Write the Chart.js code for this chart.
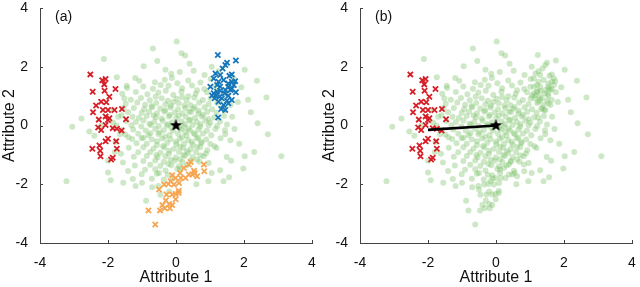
<!DOCTYPE html>
<html>
<head>
<meta charset="utf-8">
<script src="https://cdn.jsdelivr.net/npm/chart.js@4"></script>
<style>
  html, body { margin: 0; padding: 0; background: #fff; }
  .wrap { display: flex; width: 640px; height: 287px; }
  .panel { position: relative; width: 320px; height: 287px; }
</style>
</head>
<body>
<div class="wrap">
  <div class="panel"><canvas id="chartA"></canvas></div>
  <div class="panel"><canvas id="chartB"></canvas></div>
</div>
<script>
// values, [attribute 1, attribute 2]
const greenPts = [
  [-3.22,-1.9],[-3.05,-0.04],[-2.78,0.24],[-2.12,2.26],[-1.74,1.64],[-1.92,-1.86],[-1.56,-1.26],[-1.41,-1.55],
  [-1.27,-1.82],[-1.19,-2.06],[-0.88,-2.56],[-0.52,-2.06],[-0.95,2.02],[-0.68,2.62],[0.02,2.86],[0.16,2.46],
  [0.27,2.38],[-0.31,1.9],[-0.14,1.76],[0.11,1.82],[0.52,1.86],[0.84,1.72],[2.02,1.9],[2.38,1.52],[2.66,0.95],
  [2.12,0.88],[2.4,0.08],[2.7,-0.3],[3.1,-1.05],[2.02,-1.05],[1.98,-1.46],[1.56,-1.76],[1.3,-1.52],[1.86,-0.62],
  [1.72,-0.12],[1.82,0.8],[1.92,1.3],[1.62,-1.2],[1.05,-1.62],[-1.62,-0.96],[-1.78,-0.56],[-1.52,0.92],
  [-1.9,0.52],[-0.46,-2.36],[-2.4,-0.35],[-1.45,1.35],[-1.2,1.62],[-0.55,2.2],[0.4,2.1],[1.05,2.0],[-1.0,-1.95],
  [-0.7,-2.1],[-0.2,-2.25],[0.6,-2.0],[0.95,-1.9],[1.4,-1.9],[2.3,-0.9],[2.2,0.45],[1.6,-0.5],[-2.0,-1.2],
  [-1.75,0.0],[-1.6,0.35],[-2.2,0.0],[-1.65,-0.3],[-1.55,0.6],[-1.7,0.3],[-1.85,0.1],[-1.6,-0.15],[-1.4,-0.4],
  [-1.8,-0.9],[-2.55,-0.2],[-2.0,-1.6],[1.42,0.52],[1.6,0.7],[1.55,1.25],[1.7,1.6],[1.25,1.85],[1.45,-0.3],[1.65,0.3],
  [-1.08,1.52],[-0.62,1.47],[-0.33,1.56],[0.04,1.44],[0.36,1.53],[0.72,1.46],[1.02,1.58],[-0.12,1.62],
  [-1.44,1.28],[-0.96,1.33],[-0.68,1.25],[-0.22,1.35],[0.18,1.27],[0.47,1.36],[0.83,1.24],[1.12,1.32],[-0.45,1.38],[0.62,1.2],
  [-1.58,1.08],[-1.18,1.14],[-0.84,1.06],[-0.52,1.12],[-0.08,1.04],[0.16,1.15],[0.58,1.08],[0.91,1.13],[1.52,1.06],[-0.3,1.18],[0.36,1.0],[1.22,1.16],
  [-1.33,0.88],[-1.03,0.94],[-0.77,0.86],[-0.42,0.93],[-0.24,0.84],[0.02,0.91],[0.31,0.86],[0.54,0.95],[0.79,0.87],[1.02,0.92],[-0.6,0.98],[0.18,0.97],[1.3,0.86],[-0.08,0.8],
  [-1.48,0.74],[-1.14,0.78],[-0.91,0.71],[-0.58,0.77],[-0.31,0.72],[0.08,0.76],[0.42,0.7],[0.68,0.78],[0.96,0.73],[1.21,0.77],[-0.72,0.66],[0.25,0.68],[-0.15,0.67],[0.55,0.63],
  [-1.24,0.6],[-0.94,0.56],[-0.7,0.62],[-0.46,0.58],[-0.16,0.61],[0.06,0.55],[0.27,0.6],[0.51,0.57],[0.84,0.62],[1.06,0.55],[1.36,0.6],[-0.32,0.52],[0.67,0.5],[0.38,0.48],
  [-1.41,0.46],[-1.01,0.43],[-0.79,0.48],[-0.56,0.42],[-0.34,0.47],[-0.04,0.44],[0.19,0.41],[0.44,0.46],[0.66,0.42],[0.92,0.47],[1.19,0.43],[-0.18,0.36],[0.08,0.34],[0.8,0.36],[-0.66,0.34],
  [-1.28,0.3],[-1.09,0.26],[-0.86,0.32],[-0.59,0.28],[-0.21,0.31],[0.01,0.25],[0.29,0.3],[0.56,0.26],[0.76,0.31],[1.12,0.27],[1.41,0.32],[-0.42,0.24],[0.42,0.2],[0.95,0.22],
  [-1.46,0.15],[-1.18,0.12],[-0.96,0.17],[-0.64,0.13],[-0.39,0.16],[-0.11,0.11],[0.16,0.14],[0.39,0.17],[0.61,0.12],[0.86,0.16],[1.01,0.1],[1.29,0.14],[-0.78,0.06],[0.26,0.05],[0.72,0.04],[-0.24,0.04],
  [-1.31,0.01],[-1.02,-0.03],[-0.74,0.02],[-0.51,-0.02],[-0.27,0.0],[0.24,-0.03],[0.49,0.02],[0.71,-0.04],[0.96,0.01],[1.21,-0.02],[1.5,0.03],[0.1,-0.08],[-0.14,-0.07],[0.37,-0.1],
  [-1.26,-0.14],[-0.89,-0.17],[-0.61,-0.12],[-0.36,-0.16],[-0.09,-0.18],[0.14,-0.13],[0.41,-0.17],[0.66,-0.14],[0.91,-0.18],[1.16,-0.12],[1.44,-0.16],[-0.48,-0.24],[0.52,-0.26],[0.27,-0.22],[-0.75,-0.26],
  [-1.49,-0.31],[-1.11,-0.28],[-0.81,-0.33],[-0.52,-0.29],[-0.19,-0.32],[0.06,-0.28],[0.31,-0.34],[0.56,-0.3],[0.79,-0.27],[1.04,-0.33],[-0.32,-0.38],[0.18,-0.4],[0.66,-0.42],[-0.96,-0.42],
  [-1.29,-0.46],[-1.01,-0.43],[-0.71,-0.48],[-0.41,-0.44],[-0.16,-0.47],[0.11,-0.45],[0.36,-0.49],[0.61,-0.44],[0.89,-0.48],[1.31,-0.43],[-0.56,-0.54],[0.46,-0.56],[0.0,-0.55],[0.75,-0.56],
  [-1.16,-0.6],[-0.86,-0.62],[-0.56,-0.66],[-0.26,-0.59],[0.01,-0.63],[0.24,-0.61],[0.49,-0.65],[0.74,-0.6],[1.01,-0.63],[-0.38,-0.7],[0.12,-0.72],[0.62,-0.73],[1.13,-0.71],
  [-1.39,-0.76],[-0.96,-0.74],[-0.66,-0.78],[-0.34,-0.75],[-0.06,-0.79],[0.21,-0.76],[0.44,-0.8],[0.71,-0.74],[1.19,-0.77],[-0.2,-0.86],[0.32,-0.87],[0.92,-0.84],
  [-1.11,-0.91],[-0.76,-0.9],[-0.46,-0.93],[-0.21,-0.96],[0.09,-0.9],[0.36,-0.94],[0.59,-0.91],[0.88,-0.95],[-0.58,-1.0],[0.22,-1.0],[0.72,-1.02],
  [-1.24,-1.06],[-0.86,-1.04],[-0.54,-1.08],[-0.31,-1.05],[-0.01,-1.09],[0.26,-1.04],[0.49,-1.08],[0.81,-1.05],[1.49,-1.07],[0.12,-1.15],[-0.16,-1.17],[0.62,-1.16],
  [-0.96,-1.21],[-0.61,-1.19],[-0.36,-1.23],[-0.04,-1.2],[0.19,-1.24],[0.44,-1.2],[0.69,-1.23],[0.96,-1.28],[-0.22,-1.31],
  [-1.21,-1.36],[-0.76,-1.34],[-0.46,-1.38],[-0.14,-1.35],[0.09,-1.39],[0.31,-1.36],[0.12,-1.5],
  [-0.91,-1.51],[-0.61,-1.49],[-0.31,-1.53],[0.04,-1.48],[-0.5,-1.62],
  [-1.01,-1.66],[-0.56,-1.64],[-0.24,-1.68],[-0.1,-1.8],
  [-0.71,-1.81],[-0.36,-1.84],[-1.55,-1.95]
];

const redPts = [
  [-2.52,1.74],[-2.45,1.15],[-2.17,1.54],[-2.07,1.58],[-2.11,1.40],[-2.10,1.18],[-1.78,1.24],[-1.96,0.98],
  [-2.20,0.81],[-2.35,0.68],[-2.44,0.45],[-2.15,0.53],[-2.00,0.53],[-1.81,0.53],[-1.59,0.56],[-2.27,0.20],
  [-2.07,0.31],[-2.00,0.19],[-1.47,0.21],[-2.29,-0.07],[-2.20,-0.15],[-2.07,0.02],[-1.86,-0.09],[-1.74,-0.11],
  [-1.60,-0.17],[-1.76,-0.54],[-2.00,-0.45],[-2.07,-0.54],[-2.25,-0.68],[-2.46,-0.79],[-2.23,-0.86],[-2.22,-1.05],
  [-1.91,-1.16],[-1.86,-1.10],[-1.74,-0.79],[-1.96,0.25],[-2.05,0.79]
];

const bluePts = [
  [1.23,2.40],[1.76,2.21],[1.45,2.06],[1.50,2.14],[1.16,1.77],[1.30,1.72],[1.57,1.69],[1.64,1.74],[1.11,1.60],
  [1.40,1.55],[1.74,1.51],[1.25,1.49],[1.54,1.43],[1.01,1.32],[1.30,1.32],[1.64,1.24],[1.45,1.21],[1.21,1.15],
  [1.76,1.13],[1.16,1.02],[1.28,0.98],[1.14,0.93],[1.35,0.93],[1.54,1.01],[1.64,0.87],[1.25,0.81],[1.40,0.70],
  [1.33,0.56],[1.45,0.53],[1.24,0.27],[1.11,1.10],[1.54,1.32],[1.64,1.49],[1.21,1.38],[1.43,1.10],[1.50,0.84],
  [1.54,0.76],[1.30,1.18],[1.06,1.02],[1.37,1.94],[1.60,1.21],[1.70,1.38]
];

const orangePts = [
  [-0.61,-3.37],[-0.81,-2.89],[-0.47,-2.89],[-0.40,-2.71],[-0.30,-2.55],[-0.33,-2.82],[-0.18,-2.82],[-0.11,-2.71],
  [-0.11,-2.35],[-0.01,-2.51],[-0.01,-2.33],[0.08,-2.22],[-0.50,-2.18],[-0.22,-1.99],[-0.16,-1.90],[-0.06,-2.01],
  [-0.01,-1.79],[-0.11,-1.69],[0.12,-1.62],[0.14,-1.79],[0.28,-1.79],[0.38,-1.67],[0.48,-1.67],[0.62,-1.73],
  [0.55,-1.62],[0.38,-1.33],[0.43,-1.24],[0.82,-1.33],[0.83,-1.56],[0.53,-1.54],[0.23,-1.45],[0.09,-1.96],
  [-0.28,-2.35],[-0.20,-2.67],[0.08,-2.30],[-0.35,-2.01]
];

const centrePt = [[0, 0]];
const linkLine = [[-2.0, -0.15], [0, 0]];
const tickVals = [-4, -2, 0, 2, 4];

const FONT = '"Liberation Sans", Arial, Helvetica, sans-serif';
const toXY = arr => arr.map(p => ({ x: p[0], y: p[1] }));

// filled five-point star used as the point style of the centre
function makeStar(size) {
  const c = document.createElement('canvas');
  c.width = size; c.height = size;
  const g = c.getContext('2d');
  const cx = size / 2, cy = size / 2, ro = size / 2, ri = ro * 0.42;
  g.beginPath();
  for (let i = 0; i < 10; i++) {
    const r = i % 2 ? ri : ro;
    const a = -Math.PI / 2 + i * Math.PI / 5;
    g.lineTo(cx + r * Math.cos(a), cy + r * Math.sin(a));
  }
  g.closePath();
  g.fillStyle = '#000';
  g.fill();
  return c;
}
const starImg = makeStar(13);

// short tick marks pointing into the plot
const innerTicks = {
  id: 'innerTicks',
  afterDraw(chart) {
    const { ctx, chartArea, scales } = chart;
    ctx.save();
    ctx.strokeStyle = '#444';
    ctx.lineWidth = 1;
    tickVals.forEach(v => {
      const px = Math.round(scales.x.getPixelForValue(v)) + 0.5;
      ctx.beginPath();
      ctx.moveTo(px, chartArea.bottom);
      ctx.lineTo(px, chartArea.bottom - 3);
      ctx.stroke();
      const py = Math.round(scales.y.getPixelForValue(v)) + 0.5;
      ctx.beginPath();
      ctx.moveTo(chartArea.left, py);
      ctx.lineTo(chartArea.left + 3, py);
      ctx.stroke();
    });
    ctx.restore();
  }
};

const panelTag = {
  id: 'panelTag',
  afterDraw(chart, args, opts) {
    const { ctx, chartArea } = chart;
    ctx.save();
    ctx.font = '14px ' + FONT;
    ctx.fillStyle = '#111';
    ctx.textAlign = 'left';
    ctx.textBaseline = 'middle';
    ctx.fillText(opts.text, chartArea.left + 15, chartArea.top + 9);
    ctx.restore();
  }
};

function axis(title, isX) {
  return {
    type: 'linear',
    min: -4,
    max: 4,
    grid: { display: false },
    border: { display: true, color: '#444', width: 1 },
    ticks: {
      stepSize: 2,
      color: '#111',
      padding: isX ? 4 : 4,
      font: { family: FONT, size: 14 },
      callback: v => String(v).replace('\u2212', '-')
    },
    title: {
      display: true,
      text: title,
      color: '#111',
      padding: 0,
      font: { family: FONT, size: 16 }
    },
    afterFit: s => {
      if (isX) {
        s.height = 44;
        s.paddingLeft = 0;
        s.paddingRight = 0;
      } else {
        s.width = 40;
        s.paddingTop = 0;
        s.paddingBottom = 0;
      }
    }
  };
}

function cross(data, colour) {
  return {
    data: toXY(data),
    pointStyle: 'crossRot',
    pointRadius: 3.7,
    borderColor: colour,
    borderWidth: 1.8,
    backgroundColor: colour
  };
}

function makePanel(id, tag, datasets, rightPad) {
  new Chart(document.getElementById(id), {
    type: 'scatter',
    data: { datasets },
    options: {
      responsive: true,
      maintainAspectRatio: false,
      animation: false,
      layout: { padding: { top: 4, right: rightPad, left: 0, bottom: 0 } },
      plugins: {
        legend: { display: false },
        tooltip: { enabled: false },
        panelTag: { text: tag }
      },
      scales: {
        x: axis('Attribute 1', true),
        y: axis('Attribute 2', false)
      }
    },
    plugins: [innerTicks, panelTag]
  });
}

const greenStyle = {
  pointRadius: 3,
  pointStyle: 'circle',
  borderWidth: 0,
  backgroundColor: 'rgba(120, 190, 100, 0.36)'
};
const starSet = { data: toXY(centrePt), pointStyle: starImg, pointRadius: 7 };

makePanel('chartA', '(a)', [
  starSet,
  cross(redPts, 'rgb(214, 30, 38)'),
  cross(bluePts, 'rgb(22, 118, 186)'),
  cross(orangePts, 'rgb(246, 166, 82)'),
  Object.assign({ data: toXY(greenPts) }, greenStyle)
], 6);

makePanel('chartB', '(b)', [
  starSet,
  {
    type: 'line',
    data: toXY(linkLine),
    borderColor: '#000',
    borderWidth: 2.6,
    pointRadius: 0,
    showLine: true
  },
  cross(redPts, 'rgb(214, 30, 38)'),
  Object.assign({ data: toXY(greenPts.concat(bluePts, orangePts)) }, greenStyle)
], 4);
</script>
</body>
</html>
